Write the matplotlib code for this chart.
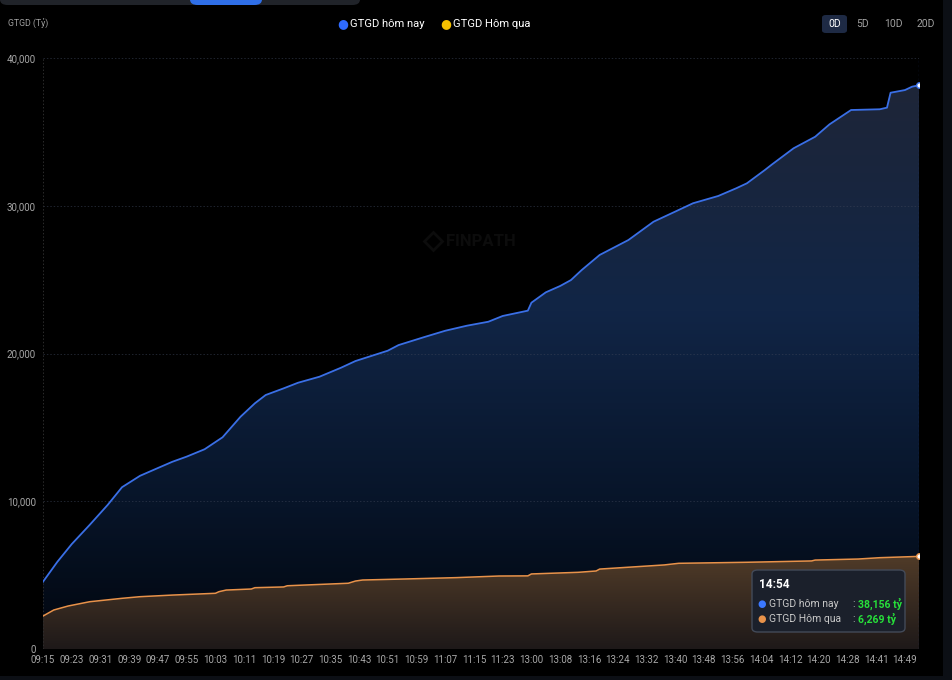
import numpy as np
import matplotlib
matplotlib.use("Agg")
from matplotlib import pyplot as plt
from matplotlib.patches import FancyBboxPatch, Rectangle
from matplotlib.ticker import FuncFormatter

plt.rcParams['font.family'] = ['Roboto', 'DejaVu Sans']

W, H = 952, 680


def minute_range(start, end):
    h0, m0 = map(int, start.split(':'))
    h1, m1 = map(int, end.split(':'))
    return [f"{t // 60:02d}:{t % 60:02d}" for t in range(h0 * 60 + m0, h1 * 60 + m1 + 1)]


# time axis (categories, one per traded minute)
categories = (minute_range("09:15", "11:30") + minute_range("13:00", "14:30")
              + minute_range("14:36", "14:50") + minute_range("14:52", "14:54"))

# GTGD hom nay (ty dong)
today_times = ["09:15", "09:19", "09:23", "09:28", "09:33", "09:37", "09:42", "09:47",
               "09:51", "09:55", "10:00", "10:05", "10:10", "10:14", "10:17", "10:22",
               "10:26", "10:32", "10:38", "10:42", "10:51", "10:54", "11:01", "11:07",
               "11:13", "11:19", "11:23", "11:30", "13:00", "13:04", "13:08", "13:11",
               "13:14", "13:19", "13:27", "13:34", "13:40", "13:45", "13:52", "13:57",
               "14:00", "14:05", "14:07", "14:13", "14:19", "14:23", "14:29", "14:42",
               "14:44", "14:45", "14:49", "14:52", "14:54"]
today_vals = [4550, 5900, 7100, 8400, 9750, 10950, 11720, 12250,
              12670, 13020, 13520, 14330, 15720, 16630, 17190, 17640,
              18020, 18430, 19040, 19490, 20190, 20570, 21100, 21540,
              21880, 22150, 22540, 22900, 23440, 24140, 24570, 24970,
              25650, 26670, 27680, 28920, 29600, 30170, 30660, 31180,
              31520, 32420, 32800, 33890, 34670, 35510, 36480, 36530,
              36640, 37650, 37830, 38060, 38156]

# GTGD hom qua
yday_times = ["09:15", "09:18", "09:22", "09:28", "09:37", "09:42", "09:51", "10:03",
              "10:04", "10:06", "10:13", "10:14", "10:22", "10:23", "10:40", "10:42",
              "10:44", "10:56", "11:10", "11:22", "11:30", "13:00", "13:13", "13:18",
              "13:19", "13:37", "13:41", "14:00", "14:18", "14:19", "14:36", "14:42",
              "14:54"]
yday_vals = [2230, 2640, 2910, 3200, 3430, 3540, 3650, 3770,
             3880, 3990, 4060, 4150, 4200, 4280, 4450, 4600,
             4670, 4740, 4830, 4940, 4950, 5080, 5190, 5280,
             5410, 5690, 5800, 5870, 5960, 6020, 6090, 6180,
             6269]

y_ticks = [0, 10000, 20000, 30000, 40000]

BLUE = '#3a6fe6'
ORANGE = '#e8924a'


def fx(px):
    return px / W


def fy(py):
    return 1 - py / H


fig = plt.figure(figsize=(W / 100, H / 100), dpi=100, facecolor='#0c0f15')
fig.patches.append(Rectangle((0, fy(676)), fx(943), 1, transform=fig.transFigure,
                             facecolor='black', edgecolor='none', zorder=-5))

# partially visible tab bar at the top
fig.patches.append(FancyBboxPatch((fx(0), fy(5)), fx(360), 0.02, transform=fig.transFigure,
                                  boxstyle='round,pad=0,rounding_size=0.008',
                                  facecolor='#202329', edgecolor='none'))
fig.patches.append(FancyBboxPatch((fx(190), fy(5)), fx(72), 0.02, transform=fig.transFigure,
                                  boxstyle='round,pad=0,rounding_size=0.008',
                                  facecolor='#2f6fe8', edgecolor='none'))

ax = fig.add_axes([fx(43), fy(649), fx(919.3) - fx(43), fy(58) - fy(649)])
ax.set_facecolor('black')

x_today = [categories.index(t) for t in today_times]
x_yday = [categories.index(t) for t in yday_times]
n_last = len(categories) - 1
ax.set_xlim(0, n_last)
ax.set_ylim(0, 40000)


def gradient_fill(xs, ys, stops, z):
    # stops: list of (fraction from top, rgb)
    poly = ax.fill_between(xs, ys, 0, color='none', lw=0, zorder=z)
    t = np.linspace(0, 1, 256)
    pos = [s[0] for s in stops]
    img = np.zeros((256, 1, 3))
    for k in range(3):
        img[:, 0, k] = np.interp(t, pos, [s[1][k] for s in stops]) / 255
    top = max(ys)
    im = ax.imshow(img, extent=[0, n_last, 0, top], aspect='auto', origin='upper',
                   zorder=z, interpolation='bilinear')
    im.set_clip_path(poly.get_paths()[0], transform=ax.transData)


gradient_fill(x_today, today_vals,
              [(0, (30, 38, 56)), (0.4, (17, 37, 70)), (0.75, (7, 20, 40)), (1, (2, 6, 14))], 1)
gradient_fill(x_yday, yday_vals,
              [(0, (80, 59, 40)), (1, (30, 25, 25))], 2)

# grid
for v in y_ticks:
    ax.axhline(v, color='#3a4256', alpha=0.55, lw=0.7, ls=(0, (1.5, 2)), zorder=3)
ax.axvline(0, color='#2c2c2c', lw=0.7, ls=(0, (1.5, 2)), zorder=3)

ax.plot(x_today, today_vals, color=BLUE, lw=1.3, zorder=4)
ax.plot(x_yday, yday_vals, color=ORANGE, lw=1.1, zorder=4)

# last-point markers and crosshair
ax.axvline(n_last, color='#3b5fcf', lw=0.8, ls=(0, (2, 2)), zorder=3)
ax.plot(x_today[-1], today_vals[-1], 'o', ms=4, mfc='white', mec=BLUE, mew=1.0, zorder=5)
ax.plot(x_yday[-1], yday_vals[-1], 'o', ms=4, mfc='white', mec=ORANGE, mew=1.0, zorder=5)

for s in ax.spines.values():
    s.set_visible(False)
ax.set_yticks(y_ticks)
ax.yaxis.set_major_formatter(FuncFormatter(lambda v, p: f"{int(v):,}"))
ax.set_xticks(range(0, n_last + 1, 8))
ax.set_xticklabels(categories[::8])
ax.tick_params(axis='both', length=0, colors='#a7a7a7', labelsize=7)
ax.tick_params(axis='x', pad=4)
ax.tick_params(axis='y', pad=5)

# watermark (very faint)
ax.text(0.5, 0.69, 'FINPATH', transform=ax.transAxes, ha='center', va='center',
        fontsize=12, fontweight='bold', color='#0c0c0c', zorder=0.6)
ax.plot([0.445], [0.69], marker='D', ms=9, mfc='none', mec='#0c0c0c', mew=2,
        transform=ax.transAxes, zorder=0.6)

# header texts
fig.text(fx(8), fy(24), 'GTGD (Tỷ)', fontsize=6.3, color='#a0a0a0', va='center')
fig.text(fx(343), fy(24), '●', fontsize=9, color='#2f6bff', va='center', ha='center',
         family='DejaVu Sans')
fig.text(fx(350), fy(24), 'GTGD hôm nay', fontsize=8.1, color='white', va='center')
fig.text(fx(446), fy(24), '●', fontsize=9, color='#f5c000', va='center', ha='center',
         family='DejaVu Sans')
fig.text(fx(453), fy(24), 'GTGD Hôm qua', fontsize=8.1, color='white', va='center')

fig.patches.append(FancyBboxPatch((fx(822), fy(33)), fx(25), fy(15) - fy(33),
                                  transform=fig.transFigure,
                                  boxstyle='round,pad=0,rounding_size=0.004',
                                  facecolor='#1e2a44', edgecolor='none'))
for label, px, col in [('0D', 834.5, 'white'), ('5D', 863, '#a0a0a0'),
                       ('10D', 893, '#a0a0a0'), ('20D', 926, '#a0a0a0')]:
    fig.text(fx(px), fy(24), label, fontsize=7.5, color=col, ha='center', va='center')

# tooltip
fig.patches.append(FancyBboxPatch((fx(752), fy(632)), fx(153), fy(570) - fy(632),
                                  transform=fig.transFigure,
                                  boxstyle='round,pad=0,rounding_size=0.006',
                                  facecolor='#1b202b', edgecolor='#434a58', lw=1.0, zorder=10))
fig.text(fx(759), fy(584), '14:54', fontsize=8.5, fontweight='bold', color='white',
         va='center', zorder=11)
rows = [('GTGD hôm nay', today_vals[-1], '#3b78ff', 604),
        ('GTGD Hôm qua', yday_vals[-1], ORANGE, 619)]
for name, val, col, py in rows:
    fig.text(fx(762), fy(py), '●', fontsize=7, color=col, ha='center', va='center', zorder=11,
             family='DejaVu Sans')
    fig.text(fx(769), fy(py), name, fontsize=7.5, color='#c8c8c8', va='center', zorder=11)
    fig.text(fx(852), fy(py), ':', fontsize=7.5, color='#c8c8c8', va='center', zorder=11)
    fig.text(fx(858), fy(py), f"{val:,} tỷ", fontsize=7.5, fontweight='bold',
             color='#27e03a', va='center', zorder=11)

fig.savefig('out.png', dpi=100, facecolor=fig.get_facecolor())
